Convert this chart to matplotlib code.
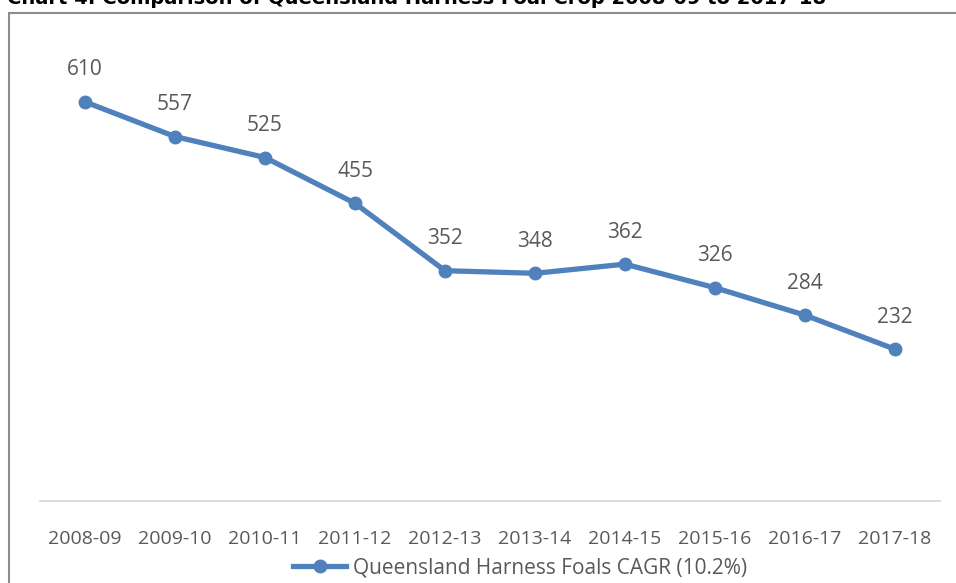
import matplotlib.pyplot as plt
from matplotlib.patches import Rectangle

# Data
seasons = ["2008-09", "2009-10", "2010-11", "2011-12", "2012-13",
           "2013-14", "2014-15", "2015-16", "2016-17", "2017-18"]
foals = [610, 557, 525, 455, 352, 348, 362, 326, 284, 232]
series_name = "Queensland Harness Foals CAGR (10.2%)"
title = "Chart 4: Comparison of Queensland Harness Foal Crop 2008-09 to 2017-18"

W, H = 956, 583
blue = "#4F81BD"
grey_text = "#595959"

fig = plt.figure(figsize=(W / 100, H / 100), dpi=100)
fig.patch.set_facecolor("white")

# chart area border (runs off the right and bottom edge)
fig.patches.append(Rectangle((9 / W, -0.1), 1.2, 1 - 13 / H + 0.1,
                             transform=fig.transFigure, fill=False,
                             edgecolor="#8c8c8c", linewidth=1.5))

# clipped title
fig.text(7 / W, 1 - 4 / H, title, fontsize=14, fontweight="bold",
         family="DejaVu Sans", va="baseline", ha="left", color="black")

ax = fig.add_axes([40 / W, 82 / H, 900 / W, 458 / H])
x = range(len(seasons))
line, = ax.plot(x, foals, color=blue, linewidth=3.8, marker="o",
                markersize=9, label=series_name)

# data labels
for xi, v in zip(x, foals):
    ax.annotate(str(v), (xi, v), xytext=(0, 23), textcoords="offset points",
                ha="center", va="center", fontsize=15, family="Open Sans",
                color=grey_text)

ax.set_xlim(-0.5, len(seasons) - 0.5)
ax.set_ylim(0, 700)
ax.set_xticks(list(x))
ax.set_xticklabels(seasons, fontsize=14, family="Open Sans", color=grey_text)
ax.set_yticks([])
ax.tick_params(axis="x", length=0, pad=21)
for s in ["top", "left", "right"]:
    ax.spines[s].set_visible(False)
ax.spines["bottom"].set_color("#d9d9d9")
ax.spines["bottom"].set_linewidth(1.3)

leg = fig.legend(handles=[line], loc="center", bbox_to_anchor=(520 / W, 1 - 568 / H),
                 frameon=False, handlelength=2.55, handletextpad=0.29,
                 prop={"family": "Open Sans", "size": 15})
for t in leg.get_texts():
    t.set_color(grey_text)

plt.savefig("out.png", dpi=100)
